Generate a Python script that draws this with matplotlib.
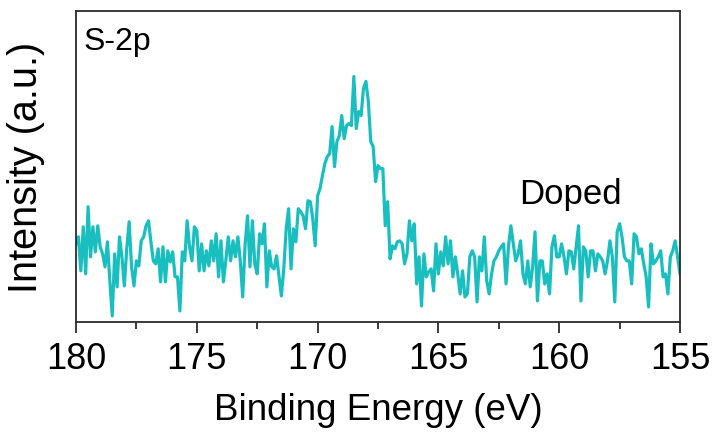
import numpy as np
import matplotlib
matplotlib.use("Agg")
import matplotlib.pyplot as plt
from matplotlib.ticker import MultipleLocator

# S-2p spectrum of the doped sample (0.1 eV steps, 180 -> 155 eV)
start_ev = 180.0
step_ev = 0.1
intensity = [
    78, 85, 51, 95, 48, 115, 65, 95, 70, 96,
    75, 68, 55, 80, 41, 6, 68, 35, 85, 65,
    36, 73, 100, 55, 36, 61, 56, 81, 85, 96,
    101, 80, 61, 58, 73, 40, 75, 40, 71, 60,
    70,
    45, 45, 11, 70, 61, 101, 75, 61, 95, 91,
    51, 78, 51, 71, 56, 81, 61, 88, 45, 81,
    40, 61, 85, 61, 81, 65, 85, 61, 25, 78,
    106, 55, 101, 58, 48, 88, 78, 98, 35, 71,
    55,
    53, 66, 46, 26, 53, 93, 113, 53, 93, 80,
    113, 110, 106, 93, 121, 120, 103, 76, 126, 133,
    146, 158, 165, 168, 195, 155, 180, 186, 206, 183,
    196, 198, 196, 245, 193, 210, 206, 233, 240, 220,
    180, 175, 140, 156, 153, 153, 96, 120, 63, 76,
    73, 80,
    81, 78, 58, 68, 101, 81, 98, 38, 65, 16,
    68, 45, 50, 53, 31, 78, 48, 70, 56, 85,
    58, 81, 45, 65, 48, 28, 51, 25, 28, 65,
    71, 65, 20, 65, 51, 85, 41, 28, 48, 61,
    65,
    71, 75, 78, 38, 75, 96, 78, 61, 68, 81,
    48, 38, 61, 35, 55, 90, 21, 61, 61, 38,
    48, 28, 75, 86, 65, 65, 78, 65, 48, 71,
    70, 53, 75, 96, 21, 75, 71, 45, 71, 71,
    51, 68,
    65, 61, 48, 61, 81, 65, 20, 90, 98, 85,
    65, 61, 61, 38, 88, 85, 68, 73, 58, 45,
    15, 78, 58, 61, 65, 71, 45, 48, 28, 65,
    71, 81, 65, 48,
]
energy = start_ev - step_ev * np.arange(len(intensity))

x_ticks = [180, 175, 170, 165, 160, 155]

plt.rcParams["font.family"] = ["Liberation Sans", "DejaVu Sans"]

fig = plt.figure(figsize=(7.13, 4.35), dpi=100)
ax = fig.add_axes([0.1066, 0.2575, 0.8471, 0.7142])

ax.plot(energy, intensity, color="#19BFBF", lw=2.3, solid_joinstyle="round")

ax.set_xlim(180, 155)
ax.set_ylim(0, 310)
ax.set_xticks(x_ticks)
ax.xaxis.set_minor_locator(MultipleLocator(2.5))
ax.set_yticks([])

for s in ax.spines.values():
    s.set_linewidth(1.3)
    s.set_color("#2b2b2b")

ax.tick_params(axis="x", which="major", direction="out", length=8, width=1.3,
               color="#2b2b2b", pad=6, labelsize=26)
ax.tick_params(axis="x", which="minor", direction="out", length=5, width=1.3,
               color="#2b2b2b")

ax.set_xlabel("Binding Energy (eV)", fontsize=26.5, labelpad=11)
ax.set_ylabel("Intensity (a.u.)", fontsize=28.5, labelpad=22)

ax.text(0.013, 0.903, "S-2p", transform=ax.transAxes, fontsize=23, va="center", ha="left")
ax.text(0.734, 0.415, "Doped", transform=ax.transAxes, fontsize=25, va="center", ha="left")

fig.savefig("out.png", dpi=100)
